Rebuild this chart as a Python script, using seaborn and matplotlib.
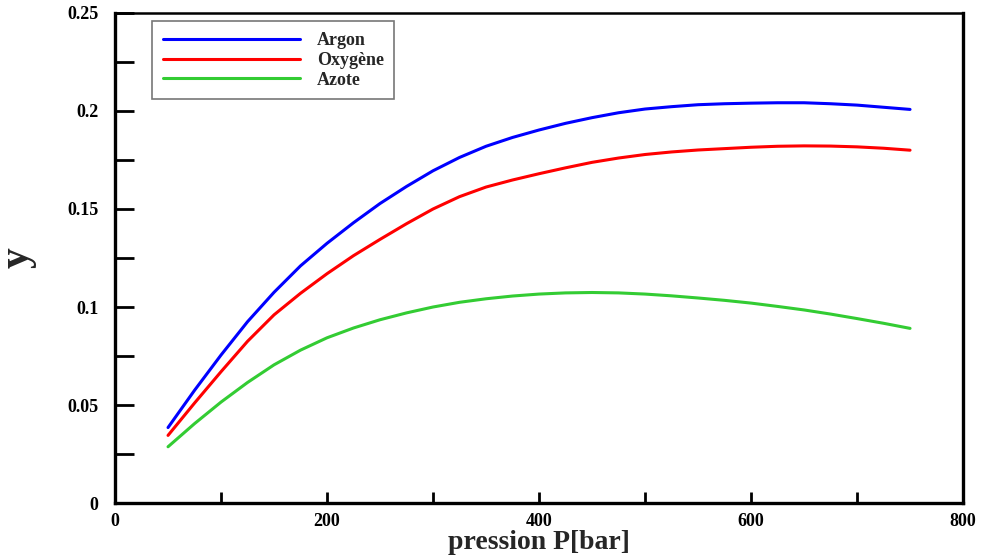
import matplotlib
matplotlib.use("Agg")
import matplotlib.pyplot as plt
import seaborn as sns
import pandas as pd
from matplotlib.ticker import MultipleLocator

pressure = [50, 75, 100, 125, 150, 175, 200, 225, 250, 275, 300, 325, 350, 375, 400,
            425, 450, 475, 500, 525, 550, 575, 600, 625, 650, 675, 700, 725, 750]
argon = [0.0385, 0.0575, 0.0755, 0.0925, 0.1075, 0.121, 0.1325, 0.143, 0.1528, 0.1615, 0.1695,
         0.1763, 0.182, 0.1865, 0.1903, 0.1937, 0.1966, 0.1991, 0.201, 0.2022, 0.2032,
         0.2037, 0.204, 0.2042, 0.2042, 0.2037, 0.203, 0.2019, 0.2008]
oxygene = [0.0345, 0.051, 0.067, 0.0825, 0.096, 0.107, 0.117, 0.1262, 0.1345, 0.1425, 0.150,
           0.1563, 0.1612, 0.1648, 0.168, 0.171, 0.1738, 0.176, 0.1778, 0.1791, 0.1801,
           0.1808, 0.1815, 0.182, 0.1822, 0.1821, 0.1817, 0.181, 0.180]
azote = [0.0287, 0.0405, 0.0515, 0.0615, 0.0705, 0.078, 0.0843, 0.0893, 0.0935, 0.097, 0.1,
         0.1024, 0.1042, 0.1056, 0.1066, 0.1072, 0.1074, 0.1072, 0.1066, 0.1057, 0.1046,
         0.1034, 0.102, 0.1003, 0.0985, 0.0964, 0.0941, 0.0917, 0.0891]
series_names = ["Argon", "Oxygène", "Azote"]
colors = ["#0000ff", "#ff0000", "#33cc33"]
ytick_vals = [0, 0.05, 0.1, 0.15, 0.2, 0.25]
ytick_labels = ["0", "0.05", "0.1", "0.15", "0.2", "0.25"]

df = pd.concat([
    pd.DataFrame({"P": pressure, "y": vals, "gas": name})
    for name, vals in zip(series_names, [argon, oxygene, azote])
])

sns.set_style("white")
plt.rcParams["font.family"] = ["Liberation Serif", "DejaVu Serif"]
plt.rcParams["font.weight"] = "bold"

fig = plt.figure(figsize=(9.84, 5.57), dpi=100)
ax = fig.add_axes([0.1169, 0.0969, 0.9787 - 0.1169, 0.9767 - 0.0969])

sns.lineplot(data=df, x="P", y="y", hue="gas", hue_order=series_names,
             palette=colors, linewidth=2.2, ax=ax, sort=False)

ax.set_xlim(0, 800)
ax.set_ylim(0, 0.25)
ax.xaxis.set_major_locator(MultipleLocator(200))
ax.xaxis.set_minor_locator(MultipleLocator(100))
ax.set_yticks(ytick_vals)
ax.set_yticklabels(ytick_labels)
ax.yaxis.set_minor_locator(MultipleLocator(0.025))
ax.tick_params(axis="both", which="both", direction="in", top=False, right=False,
               left=True, bottom=True, labelsize=13, width=2.0, colors="black")
ax.tick_params(axis="y", which="both", length=14, pad=12)
ax.tick_params(axis="x", which="both", length=8, pad=7)
for lab in ax.get_xticklabels() + ax.get_yticklabels():
    lab.set_fontweight("bold")

for s in ax.spines.values():
    s.set_visible(True)
    s.set_color("black")
    s.set_linewidth(2.4)
ax.spines["top"].set_linewidth(1.8)

ax.set_xlabel("pression P[bar]", fontsize=20, fontweight="bold", labelpad=0)
ax.set_ylabel("y", fontsize=30, fontweight="bold", labelpad=22)

leg = ax.legend(loc="upper left", bbox_to_anchor=(0.044, 0.983), frameon=True,
                fancybox=False, edgecolor="#555555", handlelength=7.6,
                handletextpad=0.9, borderpad=0.6, labelspacing=0.15,
                borderaxespad=0.0,
                prop={"family": "Liberation Serif", "weight": "bold", "size": 13})
leg.get_frame().set_linewidth(1.2)
for line in leg.get_lines():
    line.set_linewidth(2.2)

fig.savefig("out.png", dpi=100)
